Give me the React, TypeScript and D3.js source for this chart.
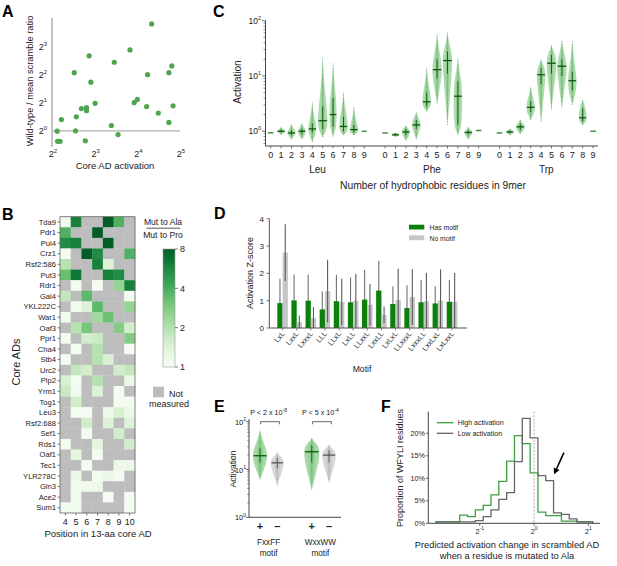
import React from "react";
import * as d3 from "d3";

const FONT = "'Liberation Sans', Arial, Helvetica, sans-serif";

// ---------------- Panel A ----------------
const aCoreActivation = [20.2, 14.2, 7.31, 11.0, 28.0, 5.74, 18.9, 26.7, 7.52, 16.0, 15.2, 8.06, 6.45, 7.01, 7.01, 18.6, 28.6, 5.94, 4.66, 22.5, 26.7, 10.5, 4.35, 5.86, 11.7, 6.87, 4.38, 4.56];
const aWtScrambleRatio = [14.0, 7.36, 6.36, 5.43, 4.96, 4.2, 4.0, 4.2, 3.32, 2.17, 2.0, 1.97, 1.73, 1.77, 1.64, 1.82, 1.85, 1.41, 1.32, 1.55, 1.23, 1.14, 0.99, 1.0, 0.91, 0.78, 0.77, 0.77];
const aXExponents = [2, 3, 4, 5];
const aYExponents = [0, 1, 2, 3];

// ---------------- Panel B ----------------
const bCoreADs = ["Tda9", "Pdr1", "Pul4", "Crz1", "Rsf2:586", "Put3", "Rdr1", "Gal4", "YKL222C", "War1", "Oaf3", "Ppr1", "Cha4", "Stb4", "Urc2", "Pip2", "Yrm1", "Tog1", "Leu3", "Rsf2:688", "Sef1", "Rds1", "Oaf1", "Tec1", "YLR278C", "Gln3", "Ace2", "Sum1"];
const bPositions = [4, 5, 6, 7, 8, 9, 10];
const N = null;
const bRatios: (number | null)[][] = [
  [1.1, 6, N, N, 8, 3.8, N],
  [3.8, N, N, 8, N, N, N],
  [5.5, 6, N, N, 8, N, N],
  [1.05, N, 8, 5.5, N, N, 3.8],
  [2, N, N, 6, 1.4, N, N],
  [3.3, 6.5, N, N, 6, 5.5, N],
  [N, 1.05, N, 1.05, N, 2.5, 6],
  [1.8, N, 3.5, N, N, N, 1.05],
  [N, 1.05, 1.4, 3.5, N, N, 2.5],
  [1.1, N, N, 2.3, 3.2, N, N],
  [N, 2, 3, N, N, 2.8, 1.6],
  [1.05, N, 1.6, 1.7, N, N, 2.8],
  [N, 1.05, N, 2, N, N, 1.03],
  [1.05, N, N, 2, 1.5, N, N],
  [N, 1.8, 1.6, N, N, 1.6, 1.8],
  [1.5, 1.05, N, 2, N, N, 1.2],
  [1.7, 1.1, N, 1.4, N, 1.05, N],
  [N, 1.6, N, N, N, 1.05, 1.05],
  [N, 1.05, 1.05, N, 1.15, 1.5, 1.2],
  [N, N, 1.6, N, 1.4, N, 1.4],
  [N, N, 1.05, N, N, 1.6, N],
  [1.05, N, N, 1.3, N, N, 1.6],
  [N, 1.3, N, 1.05, N, N, N],
  [N, N, 1.05, N, N, 1.15, 1.15],
  [N, 1.2, N, 1.05, 1.2, 1.05, N],
  [N, 1.1, 1.1, 1.15, N, N, N],
  [N, 1.1, N, N, 1.02, N, 1.05],
  [1.1, 1.1, N, N, N, N, 1.05],
];
const bColorbarTicks = [1, 2, 4, 8];

// ---------------- Panel C ----------------
const cResidues = ["Leu", "Phe", "Trp"];
const cCounts = [0, 1, 2, 3, 4, 5, 6, 7, 8, 9];
// [min, q1, median, q3, max]
const cLeu = [
  [0.92, 0.93, 0.935, 0.94, 0.95], [0.87, 0.95, 1.0, 1.05, 1.2], [0.72, 0.85, 0.93, 1.05, 1.35], [0.72, 0.88, 1.0, 1.1, 1.4], [0.63, 0.95, 1.1, 1.4, 3.3],
  [0.78, 1.1, 1.55, 2.8, 21], [0.8, 1.2, 2.0, 4.0, 17], [0.85, 1.0, 1.22, 1.8, 5], [0.85, 0.95, 1.07, 1.3, 2.7], [0.99, 0.995, 1.0, 1.005, 1.01],
];
const cPhe = [
  [0.92, 0.925, 0.93, 0.935, 0.94], [0.8, 0.83, 0.86, 0.9, 0.95], [0.68, 0.85, 0.97, 1.1, 1.25], [0.72, 1.1, 1.3, 1.6, 2.2], [2.3, 2.8, 3.4, 5, 14],
  [3.2, 9, 13, 20, 58], [1.3, 11, 19, 28, 62], [0.85, 1.3, 4.3, 8, 21], [0.72, 0.88, 0.95, 1.03, 1.2], [1.02, 1.025, 1.03, 1.035, 1.04],
];
const cTrp = [
  [0.92, 0.925, 0.93, 0.935, 0.94], [0.85, 0.93, 0.97, 1.02, 1.1], [0.9, 1.05, 1.2, 1.35, 1.6], [1.6, 2.2, 2.7, 3.5, 6.5], [1.5, 7, 10.5, 14, 20],
  [2.5, 11, 17, 24, 37], [2.7, 10, 15, 20, 45], [3, 5.5, 8.2, 12, 43], [1.3, 1.5, 1.75, 2.6, 3.8], [0.99, 0.995, 1.0, 1.005, 1.01],
];
const cLeuDensity = [0.55, 0.85, 0.85, 0.8, 0.85, 1.0, 0.75, 0.87, 0.87, 0.5];
const cPheDensity = [0.55, 0.8, 0.85, 0.9, 0.9, 1.0, 1.0, 0.9, 0.85, 0.55];
const cTrpDensity = [0.55, 0.8, 0.9, 0.9, 0.9, 1.0, 1.0, 0.9, 0.8, 0.55];
const cYExponents = [0, 1, 2];

// ---------------- Panel D ----------------
const dMotifs = ["LxL", "LxxL", "LxxxL", "LLL", "LLxL", "LxLL", "LLxxL", "LxxLL", "LxLxL", "LLxxxL", "LxxxLL", "LxxLxL", "LxLxxL"];
const dHasMotif = [0.91, 1.01, 1.0, 0.68, 0.98, 0.94, 1.04, 1.37, 0.88, 0.73, 0.94, 0.9, 0.96];
const dHasMotifErr = [0.89, 0.95, 0.95, 0.66, 0.97, 0.91, 1.08, 1.08, 0.64, 0.83, 0.82, 0.62, 0.8];
const dNoMotif = [2.76, 0.22, 0.37, 1.35, 0.95, 1.0, 0.85, 0.48, 1.02, 1.13, 0.98, 1.0, 0.96];
const dNoMotifErr = [1.04, 0.24, 0.4, 1.15, 0.85, 0.98, 0.76, 0.31, 1.15, 1.02, 1.03, 1.15, 1.05];
const dYTicks = [0, 1, 2, 3, 4];

// ---------------- Panel E ----------------
const eMotifs = ["FxxFF", "WxxWW"];
const eWithMotif = [[6.2, 14, 19.4, 28, 67], [3.8, 14, 23.5, 32, 46]];
const eWithoutMotif = [[4.7, 10.5, 13.8, 17.5, 22.7], [5.4, 14, 20, 25, 33]];
const eWithDensity = [0.95, 1.0];
const eWithoutDensity = [0.85, 0.9];
const ePMantissa = ["P < 2 x 10", "P < 5 x 10"];
const ePExponent = ["-8", "-4"];
const eYExponents = [0, 1, 2];

// ---------------- Panel F ----------------
const fBinStartLog2 = -1.8;
const fBinWidthLog2 = 0.144;
const fHighActivation = [0.3, 0.3, 0.3, 1.8, 1.5, 3.0, 4.0, 6.3, 9.3, 13.8, 19.5, 17.7, 11.2, 2.5, 1.7, 1.7, 0.5, 0.5, 0.3, 0.3];
const fLowActivation = [0.3, 0.3, 0.3, 0.3, 0.3, 0.6, 1.5, 3.0, 5.3, 6.8, 13.7, 23.3, 19.0, 10.6, 9.5, 2.3, 2.0, 1.0, 0.3, 0.3];
const fYTicks = [0, 5, 10, 15, 20];
const fXExponents = [-1, 0, 1];
const fArrowFrom = [0.55, 15.7];
const fArrowTo = [0.37, 10.9];

// ---------------- helpers ----------------
function violinPath(cx: number, y: (v: number) => number, s: number[], halfW: number) {
  const [lo, q1, med, q3, hi] = s;
  const pts = [
    { v: hi, h: 0 },
    { v: Math.sqrt(q3 * hi), h: 0.28 * halfW },
    { v: q3, h: 0.8 * halfW },
    { v: med, h: halfW },
    { v: q1, h: 0.85 * halfW },
    { v: Math.sqrt(lo * q1), h: 0.45 * halfW },
    { v: lo, h: 0 },
  ];
  return d3
    .area<{ v: number; h: number }>()
    .y((d) => y(d.v))
    .x0((d) => cx - d.h)
    .x1((d) => cx + d.h)
    .curve(d3.curveBasis)(pts) as string;
}

function Violin({ cx, y, s, halfW, fill, dot, med }: any) {
  const [lo, q1, m, q3, hi] = s;
  const flat = hi / lo < 1.06;
  return (
    <g>
      {!flat && <path d={violinPath(cx, y, s, halfW)} fill={fill} />}
      {!flat && <path d={violinPath(cx, y, s, halfW * 0.45)} fill={dot} opacity={0.18} />}
      {!flat && (
        <line x1={cx} x2={cx} y1={y(lo)} y2={y(hi)} stroke={dot} strokeWidth={1} strokeDasharray="1,1.6" opacity={0.6} />
      )}
      {!flat && <line x1={cx} x2={cx} y1={y(q1)} y2={y(q3)} stroke={med} strokeWidth={0.9} />}
      <line x1={cx - (flat ? halfW : halfW * 0.85)} x2={cx + (flat ? halfW : halfW * 0.85)} y1={y(m)} y2={y(m)} stroke={flat ? dot : med} strokeWidth={flat ? 1.4 : 1.3} />
    </g>
  );
}

function Pow({ x, y, base, exp, anchor = "middle", size = 9, supSize = 6 }: any) {
  return (
    <text x={x} y={y} textAnchor={anchor} fontSize={size} fill="#222">
      <tspan>{base}</tspan>
      <tspan dy={-size * 0.45} fontSize={supSize}>{exp}</tspan>
    </text>
  );
}

function PanelLabel({ x, y, t }: any) {
  return (
    <text x={x} y={y} fontSize={16} fontWeight="bold" fill="#000">{t}</text>
  );
}

export default function App() {
  // ---- A ----
  const xA = d3.scaleLog().base(2).domain([4, 32]).range([52, 180]);
  const yA = d3.scaleLog().base(2).domain([0.67, 16.2]).range([147, 18]);

  // ---- B ----
  const xB = d3.scaleBand().domain(bPositions.map(String)).range([60, 135]);
  const yB = d3.scaleBand().domain(bCoreADs).range([216.7, 513]);
  const tB = d3.scaleLog().base(2).domain([1, 8]).range([0, 0.92]).clamp(true);
  const colB = (v: number | null) => (v == null ? "#bdbdbd" : d3.interpolateGreens(tB(v)));
  const cbY = d3.scaleLog().base(2).domain([1, 8]).range([367, 249]);
  const cbStops = d3.range(0, 1.0001, 0.1);

  // ---- C ----
  const xC = d3.scaleLinear().domain([0, 31]).range([270.7, 593.1]);
  const yC = d3.scaleLog().domain([0.54, 100]).range([146, 20.7]);
  const cData = [cLeu, cPhe, cTrp];
  const cDens = [cLeuDensity, cPheDensity, cTrpDensity];
  const cMinor: number[] = [];
  [0.1, 1, 10].forEach((d) => [2, 3, 4, 5, 6, 7, 8, 9].forEach((k) => { const v = d * k; if (v >= 0.54 && v <= 100) cMinor.push(v); }));

  // ---- D ----
  const xD = d3.scaleBand().domain(dMotifs).range([277.3, 457.3]).paddingInner(0.25);
  const xD1 = d3.scaleBand().domain(["has", "no"]).range([0, xD.bandwidth()]);
  const yD = d3.scaleLinear().domain([0, 4]).range([328, 218.7]);

  // ---- E ----
  const xE = d3.scaleLinear().domain([0, 4]).range([260, 329]);
  const yE = d3.scaleLog().domain([1, 100]).range([517.3, 421.7]);
  const eMinor: number[] = [];
  [1, 10].forEach((d) => [2, 3, 4, 5, 6, 7, 8, 9].forEach((k) => eMinor.push(d * k)));

  // ---- F ----
  const xF = d3.scaleLinear().domain([-1.947, 1.215]).range([428.3, 600]);
  const yF = d3.scaleLinear().domain([0, 24.8]).range([523.3, 411.7]);
  const stepPts = (vals: number[]) => {
    const pts: [number, number][] = [[xF(fBinStartLog2), yF(0)]];
    vals.forEach((v, i) => {
      const a = fBinStartLog2 + i * fBinWidthLog2;
      pts.push([xF(a), yF(v)]);
      pts.push([xF(a + fBinWidthLog2), yF(v)]);
    });
    pts.push([xF(fBinStartLog2 + vals.length * fBinWidthLog2), yF(0)]);
    return d3.line()(pts) as string;
  };
  const ax = xF(fArrowFrom[0]), ay = yF(fArrowFrom[1]);
  const bx = xF(fArrowTo[0]), by = yF(fArrowTo[1]);
  const ang = Math.atan2(by - ay, bx - ax);
  const headL = 6, headW = 3.2;
  const hx = bx - headL * Math.cos(ang), hy = by - headL * Math.sin(ang);
  const head = `${bx},${by} ${hx + headW * Math.sin(ang)},${hy - headW * Math.cos(ang)} ${hx - headW * Math.sin(ang)},${hy + headW * Math.cos(ang)}`;

  const axisCol = "#444";

  return (
    <svg width={617} height={566} style={{ position: "absolute", left: 0, top: 0, background: "#fff" }} fontFamily={FONT}>
      {/* ================= A ================= */}
      <PanelLabel x={2} y={17} t="A" />
      <line x1={52} x2={52} y1={18} y2={147} stroke="#8a8a8a" strokeWidth={1} />
      <line x1={52} x2={180} y1={yA(1)} y2={yA(1)} stroke="#b0b0b0" strokeWidth={1.2} />
      {aYExponents.map((e) => (
        <Pow key={e} x={47} y={yA(2 ** e) + 3} base="2" exp={e} anchor="end" size={9} supSize={6} />
      ))}
      {aXExponents.map((e) => (
        <Pow key={e} x={xA(2 ** e) + 1} y={157} base="2" exp={e} size={9} supSize={6} />
      ))}
      {aCoreActivation.map((v, i) => (
        <circle key={i} cx={xA(v)} cy={yA(aWtScrambleRatio[i])} r={2.6} fill="#4ea54e" />
      ))}
      <text x={115} y={169} textAnchor="middle" fontSize={9.5} fill="#222">Core AD activation</text>
      <text transform={`translate(33,81) rotate(-90)`} textAnchor="middle" fontSize={9.3} fill="#222">Wild-type / mean scramble ratio</text>

      {/* ================= B ================= */}
      <PanelLabel x={2} y={220} t="B" />
      {bRatios.map((row, r) =>
        row.map((v, c) => (
          <rect key={`${r}-${c}`} x={xB(String(bPositions[c]))} y={yB(bCoreADs[r])} width={xB.bandwidth() + 0.3} height={yB.bandwidth() + 0.3} fill={colB(v)} />
        ))
      )}
      <rect x={60} y={216.7} width={75} height={296.3} fill="none" stroke="#666" strokeWidth={0.8} />
      {bCoreADs.map((name) => (
        <g key={name}>
          <line x1={57.5} x2={60} y1={yB(name)! + yB.bandwidth() / 2} y2={yB(name)! + yB.bandwidth() / 2} stroke="#444" strokeWidth={0.7} />
          <text x={56} y={yB(name)! + yB.bandwidth() / 2 + 2.7} textAnchor="end" fontSize={7.6} fill="#222">{name}</text>
        </g>
      ))}
      {bPositions.map((p) => (
        <g key={p}>
          <line x1={xB(String(p))! + xB.bandwidth() / 2} x2={xB(String(p))! + xB.bandwidth() / 2} y1={513} y2={515.5} stroke="#444" strokeWidth={0.7} />
          <text x={xB(String(p))! + xB.bandwidth() / 2} y={524.5} textAnchor="middle" fontSize={9} fill="#222">{p}</text>
        </g>
      ))}
      <text x={98} y={537} textAnchor="middle" fontSize={9.5} fill="#222">Position in 13-aa core AD</text>
      <text transform="translate(20,362) rotate(-90)" textAnchor="middle" fontSize={11} fill="#222">Core ADs</text>
      {/* colour legend */}
      <text x={163} y={225} textAnchor="middle" fontSize={8.6} fill="#222">Mut to Ala</text>
      <line x1={146.5} x2={180} y1={228.2} y2={228.2} stroke="#444" strokeWidth={0.9} />
      <text x={163} y={237.5} textAnchor="middle" fontSize={8.6} fill="#222">Mut to Pro</text>
      <defs>
        <linearGradient id="cbGrad" x1="0" x2="0" y1="1" y2="0">
          {cbStops.map((o) => (
            <stop key={o} offset={o} stopColor={d3.interpolateGreens(o * 0.92)} />
          ))}
        </linearGradient>
      </defs>
      <rect x={163} y={249} width={12} height={118} fill="url(#cbGrad)" stroke="#999" strokeWidth={0.6} />
      {bColorbarTicks.map((t) => (
        <g key={t}>
          <line x1={175} x2={178} y1={cbY(t)} y2={cbY(t)} stroke="#444" strokeWidth={0.7} />
          <text x={180} y={cbY(t) + 3.3} fontSize={9} fill="#222">{t}</text>
        </g>
      ))}
      <rect x={153} y={386.7} width={11} height={10.6} fill="#bdbdbd" />
      <text x={169} y={396.5} fontSize={9} fill="#222">Not</text>
      <text x={169} y={407} textAnchor="middle" fontSize={9} fill="#222">measured</text>

      {/* ================= C ================= */}
      <PanelLabel x={213} y={17} t="C" />
      <line x1={265.5} x2={265.5} y1={20.7} y2={146} stroke={axisCol} strokeWidth={1} />
      <line x1={265.5} x2={598} y1={146} y2={146} stroke={axisCol} strokeWidth={1} />
      {cYExponents.map((e) => (
        <g key={e}>
          <line x1={262} x2={265.5} y1={yC(10 ** e)} y2={yC(10 ** e)} stroke={axisCol} strokeWidth={0.8} />
          <Pow x={261} y={yC(10 ** e) + 3} base="10" exp={e} anchor="end" size={8.5} supSize={5.5} />
        </g>
      ))}
      {cMinor.map((v) => (
        <line key={v} x1={263.5} x2={265.5} y1={yC(v)} y2={yC(v)} stroke={axisCol} strokeWidth={0.6} />
      ))}
      {cResidues.map((res, g) => (
        <g key={res}>
          {cCounts.map((k) => {
            const cx = xC(g * 11 + k);
            return (
              <g key={k}>
                <line x1={cx} x2={cx} y1={146} y2={148.5} stroke={axisCol} strokeWidth={0.7} />
                <text x={cx} y={158} textAnchor="middle" fontSize={9} fill="#222">{k}</text>
                <Violin cx={cx} y={yC} s={cData[g][k]} halfW={5 * cDens[g][k]} fill="#afdcaf" dot="#2f8f2f" med="#0a5a0a" />
              </g>
            );
          })}
          <text x={(xC(g * 11) + xC(g * 11 + 9)) / 2} y={173} textAnchor="middle" fontSize={10} fill="#222">{res}</text>
        </g>
      ))}
      <text x={433} y={189} textAnchor="middle" fontSize={10.3} fill="#222">Number of hydrophobic residues in 9mer</text>
      <text transform="translate(241,82) rotate(-90)" textAnchor="middle" fontSize={10} fill="#222">Activation</text>

      {/* ================= D ================= */}
      <PanelLabel x={214} y={219} t="D" />
      {dMotifs.map((m, i) => {
        const x0 = xD(m)!;
        const cxH = x0 + xD1("has")! + xD1.bandwidth() / 2;
        return (
          <g key={m}>
            <line x1={cxH} x2={cxH} y1={yD(Math.max(0, dHasMotif[i] - dHasMotifErr[i]))} y2={yD(dHasMotif[i] + dHasMotifErr[i])} stroke="#707070" strokeWidth={1.1} />
            <rect x={x0 + xD1("has")!} y={yD(dHasMotif[i])} width={xD1.bandwidth()} height={yD(0) - yD(dHasMotif[i])} fill="#0d7f0d" />
          </g>
        );
      })}
      {dMotifs.map((m, i) => {
        const x0 = xD(m)!;
        const cxN = x0 + xD1("no")! + xD1.bandwidth() / 2;
        return (
          <g key={m}>
            <rect x={x0 + xD1("no")!} y={yD(dNoMotif[i])} width={xD1.bandwidth()} height={yD(0) - yD(dNoMotif[i])} fill="#c6c6c6" />
            <line x1={cxN} x2={cxN} y1={yD(Math.max(0, dNoMotif[i] - dNoMotifErr[i]))} y2={yD(dNoMotif[i] + dNoMotifErr[i])} stroke="#5a5a5a" strokeWidth={1.1} />
          </g>
        );
      })}
      <line x1={269.3} x2={269.3} y1={218.7} y2={328} stroke="#555" strokeWidth={1} />
      <line x1={269.3} x2={467} y1={328} y2={328} stroke="#555" strokeWidth={1} />
      {dYTicks.map((t) => (
        <g key={t}>
          <line x1={266.5} x2={269.3} y1={yD(t)} y2={yD(t)} stroke="#555" strokeWidth={0.8} />
          <text x={264} y={yD(t) + 3} textAnchor="end" fontSize={8} fill="#222">{t}</text>
        </g>
      ))}
      {dMotifs.map((m) => {
        const c = xD(m)! + xD.bandwidth() / 2;
        return (
          <g key={m}>
            <line x1={c} x2={c} y1={328} y2={330.5} stroke="#555" strokeWidth={0.7} />
            <text transform={`translate(${c + 2.5},${334}) rotate(-50)`} textAnchor="end" fontSize={7.3} fill="#222">{m}</text>
          </g>
        );
      })}
      <text x={362} y={372} textAnchor="middle" fontSize={8.6} fill="#222">Motif</text>
      <text transform="translate(253,273) rotate(-90)" textAnchor="middle" fontSize={9} fill="#222">Activation Z-score</text>
      <rect x={409} y={224.7} width={15.3} height={4.8} fill="#0d7f0d" />
      <text x={429.5} y={230} fontSize={6.8} fill="#222">Has motif</text>
      <rect x={409} y={235.4} width={15.3} height={4.8} fill="#c6c6c6" />
      <text x={429.5} y={240.7} fontSize={6.8} fill="#222">No motif</text>

      {/* ================= E ================= */}
      <PanelLabel x={214} y={412} t="E" />
      <line x1={249} x2={249} y1={419} y2={517.3} stroke={axisCol} strokeWidth={1} />
      <line x1={249} x2={341} y1={517.3} y2={517.3} stroke={axisCol} strokeWidth={1} />
      {eYExponents.map((e) => (
        <g key={e}>
          <line x1={246} x2={249} y1={yE(10 ** e)} y2={yE(10 ** e)} stroke={axisCol} strokeWidth={0.8} />
          <Pow x={246} y={yE(10 ** e) + 3} base="10" exp={e} anchor="end" size={7.5} supSize={5} />
        </g>
      ))}
      {eMinor.map((v) => (
        <line key={v} x1={247.2} x2={249} y1={yE(v)} y2={yE(v)} stroke={axisCol} strokeWidth={0.6} />
      ))}
      {eMotifs.map((m, i) => {
        const cp = xE(i * 3);
        const cm = xE(i * 3 + 1);
        return (
          <g key={m}>
            <Violin cx={cp} y={yE} s={eWithMotif[i]} halfW={8 * eWithDensity[i]} fill="#a8d9a8" dot="#2f9a2f" med="#0a5a0a" />
            <Violin cx={cm} y={yE} s={eWithoutMotif[i]} halfW={8 * eWithoutDensity[i]} fill="#d8d8d8" dot="#8c8c8c" med="#555" />
            <text x={cp} y={530} textAnchor="middle" fontSize={11} fontWeight="bold" fill="#222">+</text>
            <text x={cm} y={530} textAnchor="middle" fontSize={11} fontWeight="bold" fill="#222">–</text>
            <text x={(cp + cm) / 2} y={544.5} textAnchor="middle" fontSize={8.2} fill="#222">{m}</text>
            <text x={(cp + cm) / 2} y={555.5} textAnchor="middle" fontSize={8.2} fill="#222">motif</text>
            <path d={`M${cp + 0.7},${yE(100) + 2.6} V${yE(100)} H${cm + 2.3} V${yE(100) + 2.6}`} fill="none" stroke="#555" strokeWidth={0.9} />
            <text x={(cp + cm) / 2} y={414.5} textAnchor="middle" fontSize={7.2} fill="#222">
              <tspan>{ePMantissa[i]}</tspan>
              <tspan dy={-3} fontSize={5}>{ePExponent[i]}</tspan>
            </text>
          </g>
        );
      })}
      <text transform="translate(236,469) rotate(-90)" textAnchor="middle" fontSize={8.5} fill="#222">Activation</text>

      {/* ================= F ================= */}
      <PanelLabel x={381} y={412} t="F" />
      <line x1={xF(0)} x2={xF(0)} y1={411.7} y2={523.3} stroke="#999" strokeWidth={0.8} strokeDasharray="2,1.5" />
      <path d={stepPts(fHighActivation)} fill="none" stroke="#3f9f3f" strokeWidth={1.3} />
      <path d={stepPts(fLowActivation)} fill="none" stroke="#666" strokeWidth={1.3} />
      <line x1={428.3} x2={428.3} y1={411.7} y2={523.3} stroke={axisCol} strokeWidth={1} />
      <line x1={428.3} x2={600} y1={523.3} y2={523.3} stroke={axisCol} strokeWidth={1} />
      {fYTicks.map((t) => (
        <g key={t}>
          <line x1={425.8} x2={428.3} y1={yF(t)} y2={yF(t)} stroke={axisCol} strokeWidth={0.8} />
          <text x={425} y={yF(t) + 2.6} textAnchor="end" fontSize={7.2} fill="#222">{t}%</text>
        </g>
      ))}
      {fXExponents.map((e) => (
        <g key={e}>
          <line x1={xF(e)} x2={xF(e)} y1={523.3} y2={525.8} stroke={axisCol} strokeWidth={0.8} />
          <Pow x={xF(e)} y={533.5} base="2" exp={e} size={7.2} supSize={5} />
        </g>
      ))}
      <line x1={436.7} x2={453.3} y1={422.7} y2={422.7} stroke="#3f9f3f" strokeWidth={1.3} />
      <text x={457.7} y={425.3} fontSize={7} fill="#222">High activation</text>
      <line x1={436.7} x2={453.3} y1={433.3} y2={433.3} stroke="#666" strokeWidth={1.3} />
      <text x={457.7} y={436} fontSize={7} fill="#222">Low activation</text>
      <line x1={ax} y1={ay} x2={hx} y2={hy} stroke="#000" strokeWidth={1.6} />
      <polygon points={head} fill="#000" />
      <text x={507} y={547.5} textAnchor="middle" fontSize={9.3} fill="#222">Predicted activation change in scrambled AD</text>
      <text x={507} y={559} textAnchor="middle" fontSize={9.3} fill="#222">when a residue is mutated to Ala</text>
      <text transform="translate(403,468) rotate(-90)" textAnchor="middle" fontSize={9} fill="#222">Proportion of WFYLI residues</text>
    </svg>
  );
}
